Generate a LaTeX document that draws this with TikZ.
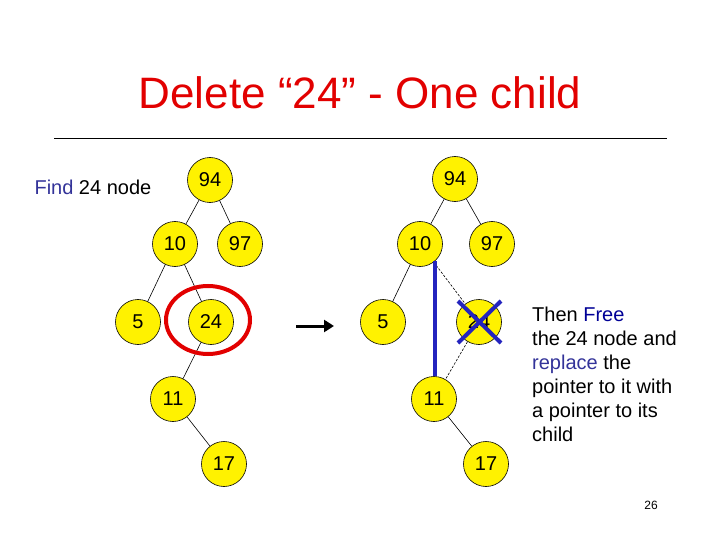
\documentclass[tikz,border=0pt]{standalone}
\definecolor{TitleRed}{RGB}{226,0,0}
\definecolor{CrossBlue}{RGB}{36,36,190}
\definecolor{WordBlue}{RGB}{51,51,153}
\definecolor{FreeBlue}{RGB}{0,0,150}
\usepackage{fontspec}
\setmainfont{Liberation Sans}
\usepackage{tikz}
\usetikzlibrary{arrows.meta, positioning, calc}

\tikzset{
  keynode/.style={circle, draw=black, fill=yellow, line width=0.6pt,
                  minimum size=45pt, inner sep=0pt, font=\fontsize{20}{24}\selectfont},
  link/.style={draw=black, line width=0.6pt},
  oldlink/.style={draw=black, line width=0.6pt, dash pattern=on 2.5pt off 1.5pt}
}

\begin{document}
\begin{tikzpicture}[x=1pt, y=-1pt]
\useasboundingbox (0,0) rectangle (720,540);

% title and rule
\node[font=\fontsize{44}{50}\selectfont, text=TitleRed, anchor=base] (title) at (360,109)
  {Delete “24” - One child};
\coordinate (ruleL) at (54,138);
\coordinate (ruleR) at (667,138);
\draw[line width=0.8pt] (ruleL) -- (ruleR);

% left tree: find the node
\node[keynode] (a94) at (210,180) {94};
\node[keynode] (a10) at (175,244) {10};
\node[keynode] (a97) at (240,244) {97};
\node[keynode] (a5)  at (138,322) {5};
\node[keynode] (a24) at (211,322) {24};
\node[keynode] (a11) at (173,399) {11};
\node[keynode] (a17) at (224,464) {17};
\draw[link] (a94) -- (a10);
\draw[link] (a94) -- (a97);
\draw[link] (a10) -- (a5);
\draw[link] (a10) -- (a24);
\draw[link] (a24) -- (a11);
\draw[link] (a11) -- (a17);
\draw[TitleRed, line width=4pt] (208,320) ellipse [x radius=42, y radius=34];

\node[font=\fontsize{20}{24}\selectfont, anchor=west] (findtxt) at (31,187)
  {\textcolor{WordBlue}{Find} 24 node};

% arrow between trees
\coordinate (arrS) at (296,326);
\coordinate (arrE) at (334,326);
\draw[line width=3pt, -{Triangle[length=10pt, width=12pt]}] (arrS) -- (arrE);

% right tree: after the delete
\node[keynode] (b94) at (455,179) {94};
\node[keynode] (b10) at (420,244) {10};
\node[keynode] (b97) at (492,244) {97};
\node[keynode] (b5)  at (383,322) {5};
\node[keynode] (b24) at (479,322) {24};
\node[keynode] (b11) at (434,399) {11};
\node[keynode] (b17) at (486,464) {17};
\draw[link] (b94) -- (b10);
\draw[link] (b94) -- (b97);
\draw[link] (b10) -- (b5);
\draw[oldlink] (b10) -- (b24);
\draw[oldlink] (b24) -- (b11);
\draw[link] (b11) -- (b17);
\draw[CrossBlue, line width=4pt] (b10.-50) -- (b10.-50 |- b11.north);
\draw[CrossBlue, line width=4pt] ($(b24)+(-21,-21)$) -- ($(b24)+(22,21)$);
\draw[CrossBlue, line width=4pt] ($(b24)+(-21,21)$) -- ($(b24)+(22,-21)$);

% explanation
\node[font=\fontsize{20}{24}\selectfont, anchor=north west, align=left,
      inner sep=0pt] (note) at (532,307)
  {Then \textcolor{FreeBlue}{Free}\\
   the 24 node and\\
   \textcolor{WordBlue}{replace} the\\
   pointer to it with\\
   a pointer to its\\
   child};

\node[font=\fontsize{12}{14}\selectfont] (pageno) at (651,505) {26};
\end{tikzpicture}
\end{document}
